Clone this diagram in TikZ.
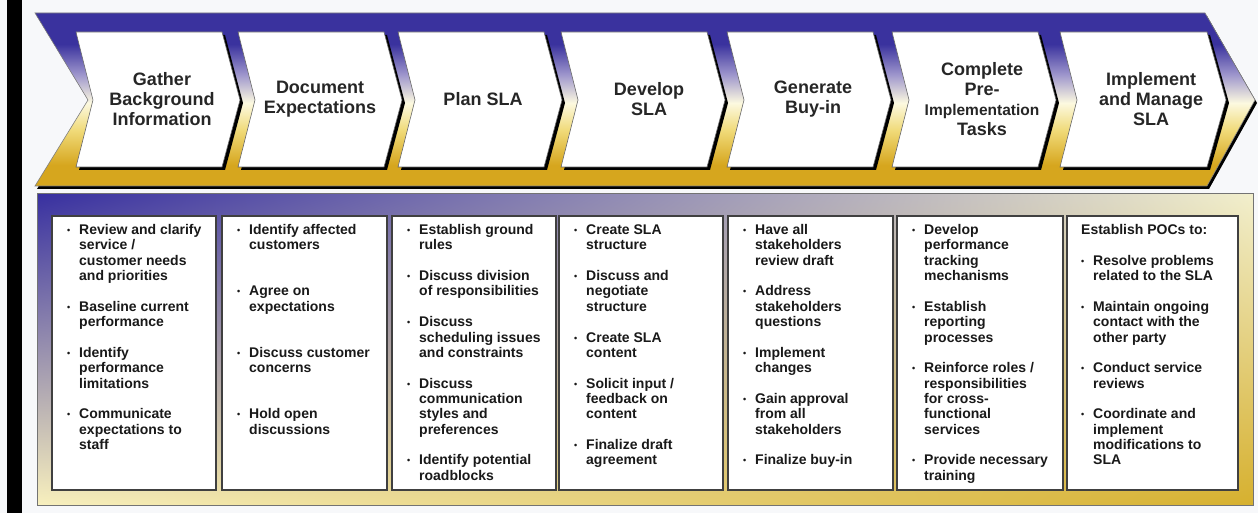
\documentclass[tikz,border=0pt]{standalone}
\usepackage{fontspec}
\setmainfont{Liberation Sans}
\usetikzlibrary{shadings,shadows}

\definecolor{bandblue}{RGB}{58,50,158}
\definecolor{bandlilac}{RGB}{160,152,205}
\definecolor{bandcream}{RGB}{252,249,224}
\definecolor{bandyellow}{RGB}{240,218,120}
\definecolor{bandgold}{RGB}{214,166,30}
\definecolor{panelblue}{RGB}{56,48,160}
\definecolor{panelpale}{RGB}{242,239,204}
\definecolor{panelyellow}{RGB}{248,240,190}
\definecolor{panelgold}{RGB}{214,176,46}
\definecolor{pagegray}{RGB}{247,248,250}

\pgfdeclareverticalshading{bandshade}{100bp}{color(0bp)=(bandgold); color(31bp)=(bandgold); color(41bp)=(bandyellow); color(49bp)=(bandcream); color(57bp)=(bandlilac); color(66bp)=(bandblue); color(100bp)=(bandblue)}

\newcommand{\itembullet}{\raisebox{1pt}{\fontsize{9}{9}\selectfont\textbullet}}

\begin{document}
\begin{tikzpicture}[x=1pt, y=-1pt,
        chev/.style={fill=white, draw=black!60, line width=0.6pt,
            drop shadow={shadow xshift=3pt, shadow yshift=-3pt, opacity=1, fill=black}},
        head/.style={align=center, inner sep=0pt, text=black!85,
            font=\bfseries\fontsize{18}{20}\selectfont},
        colbox/.style={draw=black!75, line width=1.2pt, fill=white,
            inner sep=0pt, minimum height=274pt},
        coltext/.style={anchor=base west, inner sep=0pt, text=black!90,
            font=\bfseries\fontsize{14}{15.36}\selectfont}]
        \useasboundingbox (0,0) rectangle (1258,513);
        \fill[pagegray] (0,0) rectangle (1258,513);
        \fill[black] (7,0) rectangle (22,513);

        % process band
        \shadedraw[shading=bandshade, draw=black!50, line width=0.6pt,
            drop shadow={shadow xshift=2pt, shadow yshift=-3pt, opacity=1, fill=black}]
            (35,13) -- (1205,13) -- (1255,100) -- (1207,186) -- (35,186) -- (88,100) -- cycle;
        \draw[chev] (76,32) -- ++(146,0) -- ++(18,68) -- ++(-18,67) -- ++(-146,0) -- ++(17,-67) -- cycle;
        \draw[chev] (238,32) -- ++(146,0) -- ++(18,68) -- ++(-18,67) -- ++(-146,0) -- ++(17,-67) -- cycle;
        \draw[chev] (398,32) -- ++(146,0) -- ++(18,68) -- ++(-18,67) -- ++(-146,0) -- ++(17,-67) -- cycle;
        \draw[chev] (561,32) -- ++(146,0) -- ++(18,68) -- ++(-18,67) -- ++(-146,0) -- ++(17,-67) -- cycle;
        \draw[chev] (727,32) -- ++(146,0) -- ++(18,68) -- ++(-18,67) -- ++(-146,0) -- ++(17,-67) -- cycle;
        \draw[chev] (892,32) -- ++(146,0) -- ++(18,68) -- ++(-18,67) -- ++(-146,0) -- ++(17,-67) -- cycle;
        \draw[chev] (1060,32) -- ++(147,0) -- ++(19,68) -- ++(-19,67) -- ++(-147,0) -- ++(17,-67) -- cycle;

        \draw (162,99) node(h1) [head] {Gather\\Background\\Information};
        \draw (320,99) node(h2) [head] {Document\\Expectations};
        \draw (483,99) node(h3) [head] {Plan SLA};
        \draw (649,99) node(h4) [head] {Develop\\SLA};
        \draw (813,99) node(h5) [head] {Generate\\Buy-in};
        \draw (982,99) node(h6) [head] {Complete\\Pre-\\{\fontsize{15.5}{20}\selectfont Implementation}\\Tasks};
        \draw (1151,99) node(h7) [head] {Implement\\and Manage\\SLA};

        % task panel
        \shadedraw[upper left=panelblue, upper right=panelpale,
            lower left=panelyellow, lower right=panelgold,
            draw=black!55, line width=1pt] (37,194) rectangle (1253,505);
        \draw (134,353) node(c1) [colbox, minimum width=164pt] {};
        \draw (304.5,353) node(c2) [colbox, minimum width=165pt] {};
        \draw (474,353) node(c3) [colbox, minimum width=164pt] {};
        \draw (641,353) node(c4) [colbox, minimum width=164pt] {};
        \draw (810.5,353) node(c5) [colbox, minimum width=165pt] {};
        \draw (980,353) node(c6) [colbox, minimum width=166pt] {};
        \draw (1152.5,353) node(c7) [colbox, minimum width=171pt] {};

        \draw (67,234.5) node(l1) [coltext] {\begin{tabular}[t]{@{}p{12pt}@{}l@{}}
            \itembullet & Review and clarify\\
            & service /\\
            & customer needs\\
            & and priorities\\[15.36pt]
            \itembullet & Baseline current\\
            & performance\\[15.36pt]
            \itembullet & Identify\\
            & performance\\
            & limitations\\[15.36pt]
            \itembullet & Communicate\\
            & expectations to\\
            & staff
        \end{tabular}};
        \draw (237,234.5) node(l2) [coltext] {\begin{tabular}[t]{@{}p{12pt}@{}l@{}}
            \itembullet & Identify affected\\
            & customers\\[30.72pt]
            \itembullet & Agree on\\
            & expectations\\[30.72pt]
            \itembullet & Discuss customer\\
            & concerns\\[30.72pt]
            \itembullet & Hold open\\
            & discussions
        \end{tabular}};
        \draw (407,234.5) node(l3) [coltext] {\begin{tabular}[t]{@{}p{12pt}@{}l@{}}
            \itembullet & Establish ground\\
            & rules\\[15.36pt]
            \itembullet & Discuss division\\
            & of responsibilities\\[15.36pt]
            \itembullet & Discuss\\
            & scheduling issues\\
            & and constraints\\[15.36pt]
            \itembullet & Discuss\\
            & communication\\
            & styles and\\
            & preferences\\[15.36pt]
            \itembullet & Identify potential\\
            & roadblocks
        \end{tabular}};
        \draw (574,234.5) node(l4) [coltext] {\begin{tabular}[t]{@{}p{12pt}@{}l@{}}
            \itembullet & Create SLA\\
            & structure\\[15.36pt]
            \itembullet & Discuss and\\
            & negotiate\\
            & structure\\[15.36pt]
            \itembullet & Create SLA\\
            & content\\[15.36pt]
            \itembullet & Solicit input /\\
            & feedback on\\
            & content\\[15.36pt]
            \itembullet & Finalize draft\\
            & agreement
        \end{tabular}};
        \draw (743,234.5) node(l5) [coltext] {\begin{tabular}[t]{@{}p{12pt}@{}l@{}}
            \itembullet & Have all\\
            & stakeholders\\
            & review draft\\[15.36pt]
            \itembullet & Address\\
            & stakeholders\\
            & questions\\[15.36pt]
            \itembullet & Implement\\
            & changes\\[15.36pt]
            \itembullet & Gain approval\\
            & from all\\
            & stakeholders\\[15.36pt]
            \itembullet & Finalize buy-in
        \end{tabular}};
        \draw (912,234.5) node(l6) [coltext] {\begin{tabular}[t]{@{}p{12pt}@{}l@{}}
            \itembullet & Develop\\
            & performance\\
            & tracking\\
            & mechanisms\\[15.36pt]
            \itembullet & Establish\\
            & reporting\\
            & processes\\[15.36pt]
            \itembullet & Reinforce roles /\\
            & responsibilities\\
            & for cross-\\
            & functional\\
            & services\\[15.36pt]
            \itembullet & Provide necessary\\
            & training
        \end{tabular}};
        \draw (1081,234.5) node(l7) [coltext] {\begin{tabular}[t]{@{}p{12pt}@{}l@{}}
            \multicolumn{2}{@{}l@{}}{Establish POCs to:}\\[15.36pt]
            \itembullet & Resolve problems\\
            & related to the SLA\\[15.36pt]
            \itembullet & Maintain ongoing\\
            & contact with the\\
            & other party\\[15.36pt]
            \itembullet & Conduct service\\
            & reviews\\[15.36pt]
            \itembullet & Coordinate and\\
            & implement\\
            & modifications to\\
            & SLA
        \end{tabular}};
\end{tikzpicture}
\end{document}
